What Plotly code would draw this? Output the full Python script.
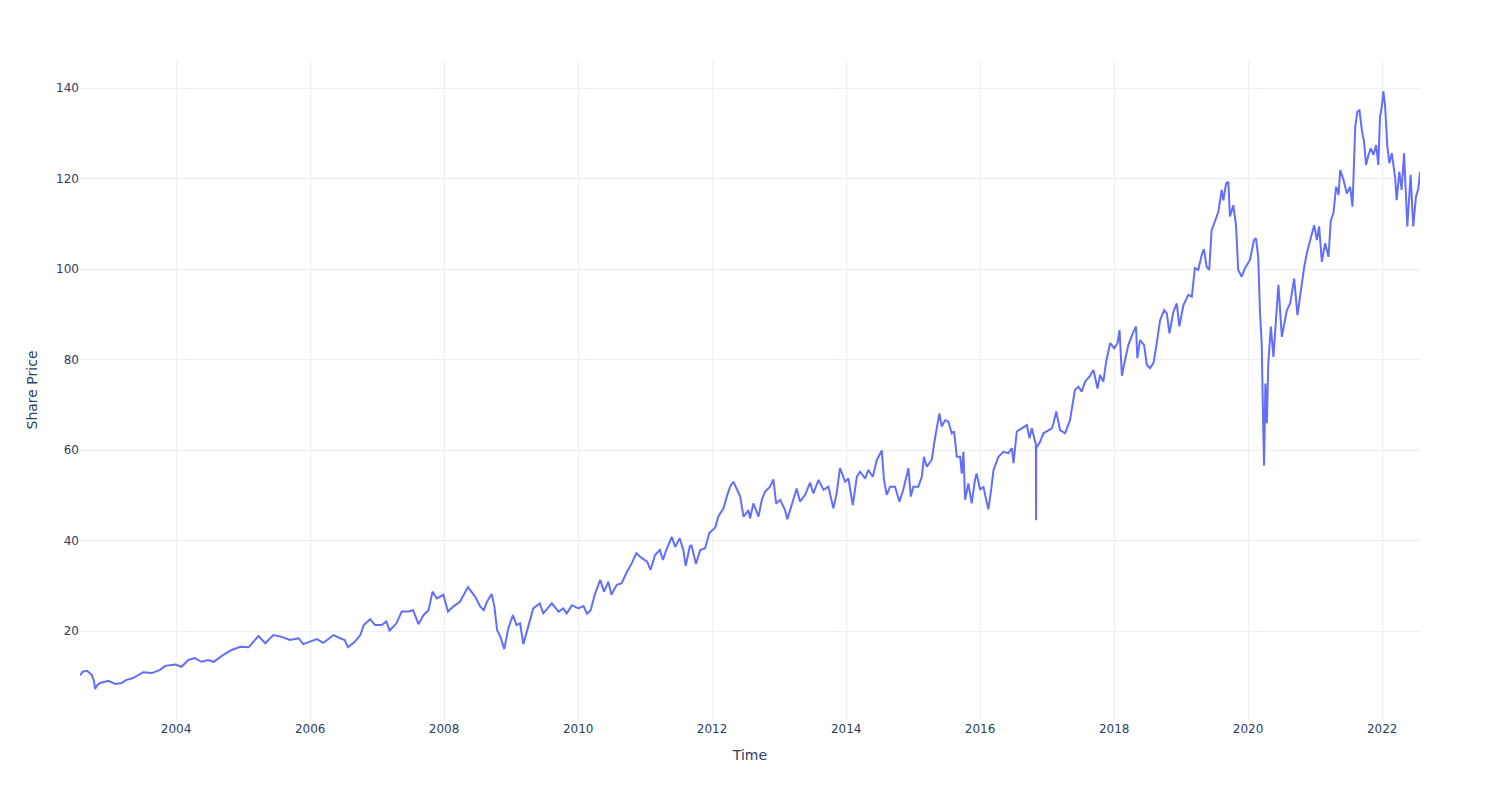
import plotly.graph_objects as go

dates = [
    "2002-07-26", "2002-08-10", "2002-09-02", "2002-09-20", "2002-09-28", "2002-10-10", "2002-10-16", "2002-10-28",
    "2002-11-14", "2002-12-28", "2003-02-03", "2003-03-10", "2003-04-05", "2003-05-12", "2003-07-05", "2003-08-22",
    "2003-10-05", "2003-11-03", "2003-12-28", "2004-01-30", "2004-03-08", "2004-04-12", "2004-05-18", "2004-06-24",
    "2004-07-24", "2004-09-06", "2004-10-30", "2004-12-16", "2005-01-30", "2005-03-25", "2005-05-01", "2005-06-14",
    "2005-07-30", "2005-09-12", "2005-10-30", "2005-11-24", "2006-01-01", "2006-02-06", "2006-03-14", "2006-05-08",
    "2006-06-14", "2006-07-08", "2006-07-26", "2006-09-01", "2006-10-01", "2006-10-20", "2006-11-24", "2006-12-20",
    "2007-01-26", "2007-02-20", "2007-03-10", "2007-04-16", "2007-05-15", "2007-06-20", "2007-07-16", "2007-08-14",
    "2007-09-10", "2007-10-08", "2007-10-30", "2007-11-22", "2007-12-28", "2008-01-22", "2008-02-20", "2008-03-28",
    "2008-05-10", "2008-06-18", "2008-07-16", "2008-08-04", "2008-08-22", "2008-09-16", "2008-10-01", "2008-10-16",
    "2008-11-03", "2008-11-24", "2008-12-16", "2009-01-10", "2009-01-30", "2009-02-18", "2009-03-08", "2009-04-05",
    "2009-05-01", "2009-06-05", "2009-06-25", "2009-08-10", "2009-09-16", "2009-10-12", "2009-10-30", "2009-11-28",
    "2010-01-01", "2010-01-30", "2010-02-18", "2010-03-10", "2010-04-01", "2010-05-01", "2010-05-22", "2010-06-14",
    "2010-07-01", "2010-07-30", "2010-08-25", "2010-09-24", "2010-10-20", "2010-11-14", "2010-12-14", "2011-01-12",
    "2011-01-30", "2011-02-24", "2011-03-22", "2011-04-08", "2011-04-26", "2011-05-26", "2011-06-14", "2011-07-08",
    "2011-07-28", "2011-08-10", "2011-09-01", "2011-09-10", "2011-10-05", "2011-10-28", "2011-11-24", "2011-12-16",
    "2012-01-18", "2012-02-04", "2012-03-03", "2012-03-21", "2012-04-08", "2012-04-26", "2012-05-14", "2012-06-02",
    "2012-06-20", "2012-07-17", "2012-07-26", "2012-08-13", "2012-09-10", "2012-09-28", "2012-10-16", "2012-11-12",
    "2012-11-30", "2012-12-15", "2013-01-06", "2013-02-02", "2013-02-14", "2013-03-10", "2013-04-06", "2013-04-24",
    "2013-05-22", "2013-06-18", "2013-07-06", "2013-08-03", "2013-08-30", "2013-09-26", "2013-10-23", "2013-11-10",
    "2013-11-28", "2013-12-26", "2014-01-13", "2014-02-06", "2014-02-28", "2014-03-18", "2014-04-14", "2014-05-02",
    "2014-05-26", "2014-06-17", "2014-07-14", "2014-07-26", "2014-08-10", "2014-08-28", "2014-09-24", "2014-10-18",
    "2014-11-08", "2014-12-06", "2014-12-19", "2015-01-02", "2015-01-29", "2015-02-17", "2015-03-01", "2015-03-16",
    "2015-04-12", "2015-04-30", "2015-05-13", "2015-05-24", "2015-06-06", "2015-06-24", "2015-07-12", "2015-07-30",
    "2015-08-12", "2015-08-27", "2015-09-14", "2015-09-23", "2015-10-02", "2015-10-11", "2015-10-29", "2015-11-16",
    "2015-12-04", "2015-12-13", "2016-01-01", "2016-01-19", "2016-02-03", "2016-02-15", "2016-03-01", "2016-03-14",
    "2016-04-10", "2016-05-07", "2016-06-03", "2016-06-22", "2016-07-01", "2016-07-19", "2016-08-15", "2016-09-12",
    "2016-09-26", "2016-10-09", "2016-10-27", "2016-10-31", "2016-11-01", "2016-11-02", "2016-11-08", "2016-11-23",
    "2016-12-11", "2017-01-07", "2017-01-26", "2017-02-04", "2017-02-19", "2017-03-12", "2017-04-08", "2017-05-05",
    "2017-05-14", "2017-06-01", "2017-06-20", "2017-07-08", "2017-07-26", "2017-08-19", "2017-09-10", "2017-10-02",
    "2017-10-16", "2017-11-03", "2017-11-18", "2017-12-10", "2018-01-01", "2018-01-19", "2018-01-30", "2018-02-12",
    "2018-03-01", "2018-03-19", "2018-04-12", "2018-04-30", "2018-05-07", "2018-05-22", "2018-06-13", "2018-06-28",
    "2018-07-15", "2018-08-03", "2018-08-21", "2018-09-08", "2018-09-30", "2018-10-15", "2018-10-29", "2018-11-20",
    "2018-12-08", "2018-12-22", "2019-01-13", "2019-02-09", "2019-02-28", "2019-03-17", "2019-04-04", "2019-04-23",
    "2019-05-05", "2019-05-20", "2019-06-03", "2019-06-16", "2019-07-04", "2019-07-23", "2019-08-10", "2019-08-19",
    "2019-09-03", "2019-09-15", "2019-09-24", "2019-10-12", "2019-10-27", "2019-11-08", "2019-11-27", "2019-12-15",
    "2020-01-11", "2020-02-02", "2020-02-13", "2020-02-25", "2020-03-06", "2020-03-15", "2020-03-24", "2020-03-28",
    "2020-04-04", "2020-04-12", "2020-04-20", "2020-05-04", "2020-05-18", "2020-06-02", "2020-06-14", "2020-07-03",
    "2020-07-30", "2020-08-17", "2020-09-08", "2020-09-26", "2020-10-11", "2020-10-20", "2020-11-02", "2020-11-16",
    "2020-12-04", "2020-12-26", "2021-01-10", "2021-01-22", "2021-02-06", "2021-02-24", "2021-03-14", "2021-03-27",
    "2021-04-10", "2021-04-25", "2021-05-08", "2021-05-17", "2021-06-04", "2021-06-22", "2021-07-10", "2021-07-23",
    "2021-08-07", "2021-08-19", "2021-08-30", "2021-09-12", "2021-09-24", "2021-10-05", "2021-10-18", "2021-10-31",
    "2021-11-14", "2021-11-29", "2021-12-11", "2021-12-20", "2021-12-30", "2022-01-07", "2022-01-17", "2022-01-29",
    "2022-02-09", "2022-02-22", "2022-03-12", "2022-03-21", "2022-04-04", "2022-04-17", "2022-04-30", "2022-05-11",
    "2022-05-18", "2022-06-05", "2022-06-19", "2022-07-04", "2022-07-17", "2022-07-26",
]

prices = [
    10.2, 11.0, 11.2, 10.6, 10.3, 9.0, 7.2, 8.0,
    8.5, 9.0, 8.3, 8.5, 9.2, 9.6, 10.9, 10.7,
    11.4, 12.3, 12.6, 12.1, 13.6, 14.0, 13.2, 13.6,
    13.2, 14.5, 15.8, 16.5, 16.4, 18.9, 17.3, 19.1,
    18.7, 18.0, 18.4, 17.1, 17.6, 18.2, 17.4, 19.1,
    18.4, 18.0, 16.4, 17.6, 19.1, 21.3, 22.6, 21.3,
    21.3, 22.1, 20.1, 21.7, 24.3, 24.3, 24.6, 21.5,
    23.5, 24.6, 28.7, 27.2, 28.0, 24.3, 25.4, 26.5,
    29.7, 27.6, 25.4, 24.6, 26.5, 28.2, 25.4, 20.2,
    18.7, 16.0, 20.6, 23.5, 21.3, 21.7, 17.1, 21.3,
    25.0, 26.1, 23.9, 26.1, 24.3, 25.0, 23.9, 25.7,
    25.0, 25.5, 23.8, 24.6, 28.0, 31.3, 28.7, 30.9,
    28.0, 30.2, 30.5, 33.1, 35.0, 37.2, 36.1, 35.3,
    33.5, 36.8, 37.9, 35.7, 37.9, 40.8, 38.6, 40.5,
    37.9, 34.4, 38.6, 39.0, 34.8, 37.9, 38.3, 41.6,
    42.9, 45.3, 47.1, 49.7, 51.9, 53.0, 51.2, 49.7,
    45.3, 46.7, 44.9, 48.2, 45.3, 49.0, 50.8, 51.9,
    53.5, 48.2, 49.0, 46.7, 44.7, 47.8, 51.5, 48.6,
    50.1, 52.8, 50.4, 53.4, 51.2, 51.9, 47.1, 50.4,
    56.0, 53.0, 53.7, 47.8, 54.1, 55.2, 53.7, 55.6,
    54.1, 57.8, 59.9, 53.4, 50.1, 51.9, 51.9, 48.6,
    51.2, 56.0, 49.7, 51.9, 51.9, 54.1, 58.5, 56.3,
    57.8, 62.6, 65.5, 68.1, 65.2, 66.6, 66.3, 63.7,
    64.1, 58.5, 58.5, 54.8, 59.6, 49.0, 52.6, 48.2,
    53.4, 54.8, 51.2, 51.9, 49.0, 46.9, 51.2, 55.6,
    58.5, 59.6, 59.3, 60.4, 57.1, 64.1, 64.8, 65.5,
    62.6, 64.8, 61.8, 61.5, 44.5, 60.5, 60.8, 61.8,
    63.7, 64.4, 64.8, 65.9, 68.5, 64.4, 63.7, 66.6,
    69.2, 73.3, 74.0, 72.9, 75.1, 76.2, 77.7, 73.6,
    76.6, 75.1, 79.5, 83.6, 82.5, 83.6, 86.5, 76.4,
    79.9, 83.2, 85.8, 87.3, 80.3, 84.3, 83.2, 78.8,
    78.1, 79.2, 83.6, 88.7, 90.9, 90.2, 85.8, 90.6,
    92.4, 87.3, 92.0, 94.3, 93.9, 100.2, 99.8, 103.1,
    104.4, 100.5, 99.8, 108.6, 110.5, 112.7, 117.5, 115.2,
    118.9, 119.3, 111.6, 114.1, 109.7, 99.8, 98.3, 100.2,
    102.0, 106.4, 106.8, 102.7, 90.2, 83.6, 63.7, 56.5,
    74.7, 65.9, 79.2, 87.3, 80.6, 90.9, 96.5, 85.0,
    90.9, 92.4, 97.9, 89.8, 94.6, 96.8, 100.5, 103.5,
    106.4, 109.7, 106.4, 109.4, 101.6, 105.7, 102.7, 110.8,
    112.3, 118.2, 116.4, 121.9, 119.7, 116.7, 118.2, 113.8,
    131.5, 134.8, 135.1, 130.7, 128.1, 123.0, 125.2, 126.7,
    125.2, 127.4, 123.0, 133.7, 135.9, 139.3, 135.9, 127.0,
    123.4, 125.6, 120.4, 115.2, 121.5, 117.5, 125.6, 116.4,
    109.4, 120.8, 109.4, 116.0, 117.8, 121.5,
]

fig = go.Figure(
    go.Scatter(
        x=dates,
        y=prices,
        mode="lines",
        line=dict(color="#636efa", width=2),
        name="",
        showlegend=False,
    )
)

fig.update_layout(
    template="plotly_white",
    width=1500,
    height=800,
    font=dict(family="DejaVu Sans, Verdana, sans-serif"),
    margin=dict(l=80, r=80, t=60, b=80),
    xaxis=dict(
        title=dict(text="Time"),
        range=["2002-07-26", "2022-07-26"],
        dtick="M24",
        tick0="2004-01-01",
        tickformat="%Y",
    ),
    yaxis=dict(title=dict(text="Share Price"), range=[0.33, 146.2]),
)

fig.write_html("out.html")
